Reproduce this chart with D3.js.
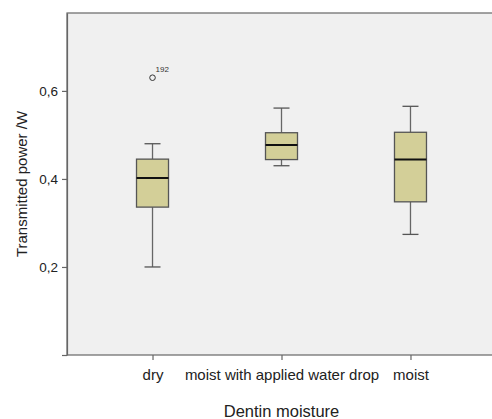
<!DOCTYPE html>
<html>
<head>
<meta charset="utf-8">
<script src="https://cdn.jsdelivr.net/npm/d3@7"></script>
<style>
  body { margin: 0; background: #fff; }
  text { font-family: 'Liberation Sans', Arial, sans-serif; }
</style>
</head>
<body>
<div id="chart"></div>
<script>

const categories = ['dry', 'moist with applied water drop', 'moist'];
const whiskerLow = [0.200, 0.430, 0.274];
const q1 = [0.336, 0.444, 0.348];
const medians = [0.402, 0.477, 0.444];
const q3 = [0.445, 0.505, 0.506];
const whiskerHigh = [0.480, 0.561, 0.565];
const outliers = [[0, 0.630, '192']];
const yTicks = [0, 0.2, 0.4, 0.6];

const width = 492;
const height = 419;
let plotLeft = 67;
let plotRight = 496;
let plotTop = 13;
let plotBottom = 355;

let svg = d3.select('#chart').append('svg')
  .attr('width', width)
  .attr('height', height);

let x = d3.scalePoint()
  .domain(categories)
  .range([plotLeft, plotRight])
  .padding(0.663);

let y = d3.scaleLinear()
  .domain([0, 0.777])
  .range([plotBottom, plotTop]);

// plot background
svg.append('rect')
  .attr('x', plotLeft)
  .attr('y', plotTop)
  .attr('width', plotRight - plotLeft)
  .attr('height', plotBottom - plotTop)
  .attr('fill', '#f0f0f0')
  .attr('stroke', '#666')
  .attr('stroke-width', 1.2);

// y axis
let fmt = d => d === 0 ? '' : d3.format('.1f')(d).replace('.', ',');
let yAxis = svg.append('g')
  .attr('transform', 'translate(' + plotLeft + ',0)')
  .call(d3.axisLeft(y).tickValues(yTicks).tickFormat(fmt)
    .tickSize(5).tickSizeOuter(0).tickPadding(4));
yAxis.select('.domain').attr('stroke', '#666').attr('stroke-width', 1.2);
yAxis.selectAll('.tick line').attr('stroke', '#666').attr('stroke-width', 1.2);
yAxis.selectAll('.tick text')
  .attr('font-size', 13.5)
  .attr('font-family', "'Liberation Sans', Arial, sans-serif")
  .attr('fill', '#222');

// x axis
let xAxis = svg.append('g')
  .attr('transform', 'translate(0,' + plotBottom + ')')
  .call(d3.axisBottom(x).tickSize(5).tickPadding(9));
xAxis.select('.domain').remove();
xAxis.selectAll('.tick line').attr('stroke', '#666').attr('stroke-width', 1.2);
xAxis.selectAll('.tick text')
  .attr('font-size', 15)
  .attr('font-family', "'Liberation Sans', Arial, sans-serif")
  .attr('fill', '#222');

// axis titles
svg.append('text')
  .text('Dentin moisture')
  .attr('x', x(categories[1]))
  .attr('y', 417)
  .attr('text-anchor', 'middle')
  .attr('font-size', 16.5)
  .attr('fill', '#222');

svg.append('text')
  .text('Transmitted power /W')
  .attr('transform', 'translate(27,' + (plotTop + plotBottom) / 2 + ') rotate(-90)')
  .attr('text-anchor', 'middle')
  .attr('font-size', 15)
  .attr('fill', '#222');

// boxes
let boxW = 32;
let capW = 16;
for (let i = 0; i < categories.length; i++) {
  let cx = x(categories[i]);
  let g = svg.append('g');

  // whiskers
  g.append('line')
    .attr('x1', cx).attr('x2', cx)
    .attr('y1', y(whiskerHigh[i])).attr('y2', y(q3[i]))
    .attr('stroke', '#666').attr('stroke-width', 1.3);
  g.append('line')
    .attr('x1', cx).attr('x2', cx)
    .attr('y1', y(q1[i])).attr('y2', y(whiskerLow[i]))
    .attr('stroke', '#666').attr('stroke-width', 1.3);
  g.append('line')
    .attr('x1', cx - capW / 2).attr('x2', cx + capW / 2)
    .attr('y1', y(whiskerHigh[i])).attr('y2', y(whiskerHigh[i]))
    .attr('stroke', '#555').attr('stroke-width', 1.3);
  g.append('line')
    .attr('x1', cx - capW / 2).attr('x2', cx + capW / 2)
    .attr('y1', y(whiskerLow[i])).attr('y2', y(whiskerLow[i]))
    .attr('stroke', '#555').attr('stroke-width', 1.3);

  // box
  g.append('rect')
    .attr('x', cx - boxW / 2)
    .attr('y', y(q3[i]))
    .attr('width', boxW)
    .attr('height', y(q1[i]) - y(q3[i]))
    .attr('fill', '#d3cf98')
    .attr('stroke', '#555')
    .attr('stroke-width', 1.3);

  // median
  g.append('line')
    .attr('x1', cx - boxW / 2).attr('x2', cx + boxW / 2)
    .attr('y1', y(medians[i])).attr('y2', y(medians[i]))
    .attr('stroke', '#111').attr('stroke-width', 2);
}

// outliers
for (let o of outliers) {
  let cx = x(categories[o[0]]);
  svg.append('circle')
    .attr('cx', cx)
    .attr('cy', y(o[1]))
    .attr('r', 2.8)
    .attr('fill', 'none')
    .attr('stroke', '#333')
    .attr('stroke-width', 1);
  svg.append('text')
    .text(o[2])
    .attr('x', cx + 3)
    .attr('y', y(o[1]) - 6)
    .attr('font-size', 8)
    .attr('fill', '#333');
}
</script>
</body>
</html>
